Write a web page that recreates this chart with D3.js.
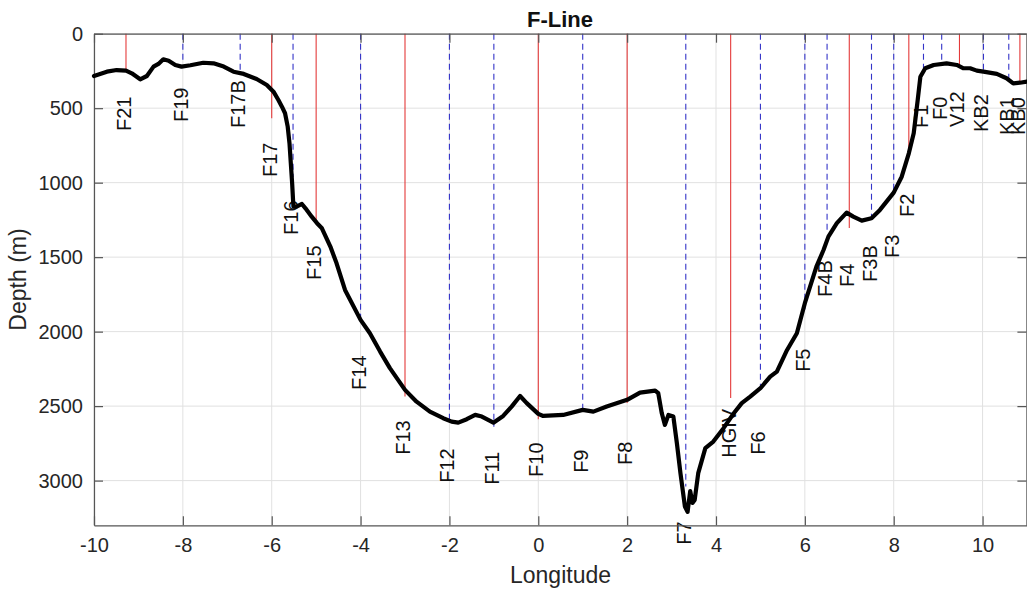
<!DOCTYPE html>
<html>
<head>
<meta charset="utf-8">
<script src="https://cdn.jsdelivr.net/npm/d3@7"></script>
<style>
  html, body { margin: 0; padding: 0; background: #fff; }
  svg { display: block; font-family: "Liberation Sans", Arial, Helvetica, sans-serif; }
</style>
</head>
<body>
<svg id="chart" width="1027" height="592"></svg>
<script>
// ---- Data ----
const bathyLon = [-10.00,-9.71,-9.49,-9.28,-9.15,-8.96,-8.81,-8.66,-8.55,-8.44,-8.32,-8.17,-8.03,-7.83,-7.54,-7.31,-7.08,-6.86,-6.63,-6.34,-6.11,-5.96,-5.85,-5.77,-5.70,-5.64,-5.60,-5.57,-5.54,-5.52,-5.51,-5.44,-5.32,-5.24,-5.10,-4.98,-4.87,-4.68,-4.54,-4.35,-4.00,-3.79,-3.56,-3.34,-3.00,-2.74,-2.44,-2.14,-1.95,-1.80,-1.61,-1.42,-1.27,-1.01,-0.79,-0.60,-0.41,-0.26,0.00,0.11,0.56,1.00,1.24,1.54,2.00,2.29,2.63,2.70,2.78,2.85,2.93,3.04,3.12,3.20,3.30,3.36,3.42,3.47,3.52,3.60,3.76,3.94,4.17,4.40,4.58,4.77,5.00,5.22,5.37,5.60,5.82,6.00,6.26,6.42,6.53,6.72,6.94,7.09,7.28,7.50,7.69,8.00,8.18,8.34,8.45,8.54,8.60,8.71,8.90,9.19,9.42,9.57,9.72,9.87,10.02,10.32,10.54,10.69,10.84,11.00];
const bathyDepth = [284,255,244,248,266,306,284,221,203,172,181,210,221,212,195,199,221,255,270,304,344,389,445,490,534,624,735,870,1004,1116,1161,1161,1143,1172,1228,1272,1306,1429,1541,1720,1921,2011,2134,2245,2391,2470,2537,2581,2604,2611,2588,2559,2570,2611,2566,2503,2432,2480,2552,2566,2559,2525,2537,2503,2458,2409,2396,2413,2548,2626,2559,2570,2750,2950,3174,3210,3070,3150,3130,2950,2782,2738,2648,2548,2480,2436,2380,2302,2268,2123,2011,1809,1564,1452,1362,1272,1201,1228,1255,1239,1183,1067,960,803,668,445,289,232,210,199,210,232,232,248,255,270,299,333,329,322];

const stationNames = ["F21","F19","F17B","F17","F16","F15","F14","F13","F12","F11","F10","F9","F8","F7","HGIV","F6","F5","F4B","F4","F3B","F3","F2","F1","F0","V12","KB2","KB1","KB0"];
const stationLon   = [-9.28,-8.0,-6.71,-6.0,-5.52,-5.0,-4.0,-3.0,-2.0,-1.0,0.0,1.0,2.0,3.32,4.33,5.0,6.0,6.5,7.0,7.5,8.0,8.34,8.67,9.08,9.48,10.02,10.59,10.84];
const stationDepth = [255,197,244,567,962,1263,1930,2436,2593,2638,2588,2537,2479,3040,2445,2402,1850,1340,1305,1250,1060,826,232,210,222,257,298,323];
const stationType  = ["r","b","b","r","b","r","b","r","b","b","r","b","r","b","r","b","b","b","r","b","b","r","b","b","r","b","b","r"];
const labelDepth   = [653,593,633,962,1351,1653,2391,2827,3015,3028,2975,2948,2895,3431,2847,2827,2270,1767,1700,1666,1505,1230,633,579,626,660,680,680];

const xTicks = [-10,-8,-6,-4,-2,0,2,4,6,8,10];
const yTicks = [0,500,1000,1500,2000,2500,3000];
const xDomain = [-10, 11];
const yDomain = [0, 3300];

// ---- Layout ----
const W = 1027, H = 592;
const m = {left: 94, top: 33.7, right: 0, bottom: 66.7};
const iw = W - m.left - m.right, ih = H - m.top - m.bottom;

const svg = d3.select("#chart");
const g = svg.append("g").attr("transform", `translate(${m.left},${m.top})`);

const x = d3.scaleLinear().domain(xDomain).range([0, iw]);
const y = d3.scaleLinear().domain(yDomain).range([0, ih]);

const axisCol = "#555", textCol = "#262626", gridCol = "#e1e1e1";

// grid
g.append("g").selectAll("line").data(xTicks).join("line")
  .attr("x1", d => x(d)).attr("x2", d => x(d)).attr("y1", 0).attr("y2", ih)
  .attr("stroke", gridCol).attr("stroke-width", 1);
g.append("g").selectAll("line").data(yTicks).join("line")
  .attr("x1", 0).attr("x2", iw).attr("y1", d => y(d)).attr("y2", d => y(d))
  .attr("stroke", gridCol).attr("stroke-width", 1);

// station lines
const stations = stationNames.map((n, i) => ({name: n, lon: stationLon[i], depth: stationDepth[i], type: stationType[i], ld: labelDepth[i]}));
g.append("g").selectAll("line").data(stations).join("line")
  .attr("x1", d => x(d.lon)).attr("x2", d => x(d.lon))
  .attr("y1", y(0)).attr("y2", d => y(d.depth))
  .attr("stroke", d => d.type === "r" ? "#e43a3a" : "#3434c8")
  .attr("stroke-width", 1.1)
  .attr("stroke-dasharray", d => d.type === "r" ? null : "6,4");

// station labels
g.append("g").selectAll("text").data(stations).join("text")
  .attr("transform", d => `translate(${x(d.lon)},${y(d.ld)}) rotate(-90)`)
  .attr("text-anchor", "start")
  .attr("dy", "0.25em")
  .attr("font-size", 20)
  .attr("fill", "#111")
  .text(d => d.name);

// axes
const fmt = d => String(d);
const xAxisB = d3.axisBottom(x).tickValues(xTicks).tickFormat(fmt).tickSizeInner(-9).tickSizeOuter(0).tickPadding(13);
const xAxisT = d3.axisTop(x).tickValues(xTicks).tickFormat("").tickSizeInner(-9).tickSizeOuter(0);
const yAxisL = d3.axisLeft(y).tickValues(yTicks).tickFormat(fmt).tickSizeInner(-9).tickSizeOuter(0).tickPadding(11);
const yAxisR = d3.axisRight(y).tickValues(yTicks).tickFormat("").tickSizeInner(-9).tickSizeOuter(0);

function style(sel) {
  sel.select(".domain").attr("stroke", axisCol).attr("stroke-width", 1.2);
  sel.selectAll(".tick line").attr("stroke", axisCol).attr("stroke-width", 1.2);
  sel.selectAll(".tick text").attr("fill", textCol).attr("font-size", 20)
     .attr("font-family", "Liberation Sans, Arial, sans-serif");
}
g.append("g").attr("transform", `translate(0,${ih})`).call(xAxisB).call(style);
g.append("g").call(xAxisT).call(style);
g.append("g").call(yAxisL).call(style);
g.append("g").attr("transform", `translate(${iw - 0.6},0)`).call(yAxisR).call(style);

// bathymetry
const bathy = bathyLon.map((l, i) => [l, bathyDepth[i]]);
g.append("path").datum(bathy)
  .attr("fill", "none").attr("stroke", "#000").attr("stroke-width", 4.2)
  .attr("stroke-linejoin", "round").attr("stroke-linecap", "round")
  .attr("d", d3.line().x(d => x(d[0])).y(d => y(d[1])));

// titles
svg.append("text").attr("x", 560)
  .attr("y", 27).attr("text-anchor", "middle")
  .attr("font-size", 22).attr("font-weight", "bold").attr("fill", "#111")
  .text("F-Line");
svg.append("text").attr("x", m.left + iw / 2).attr("y", 583).attr("text-anchor", "middle")
  .attr("font-size", 23).attr("fill", textCol).text("Longitude");
svg.append("text").attr("transform", `translate(26,${m.top + ih / 2}) rotate(-90)`)
  .attr("text-anchor", "middle").attr("font-size", 23).attr("fill", textCol).text("Depth (m)");
</script>
</body>
</html>
